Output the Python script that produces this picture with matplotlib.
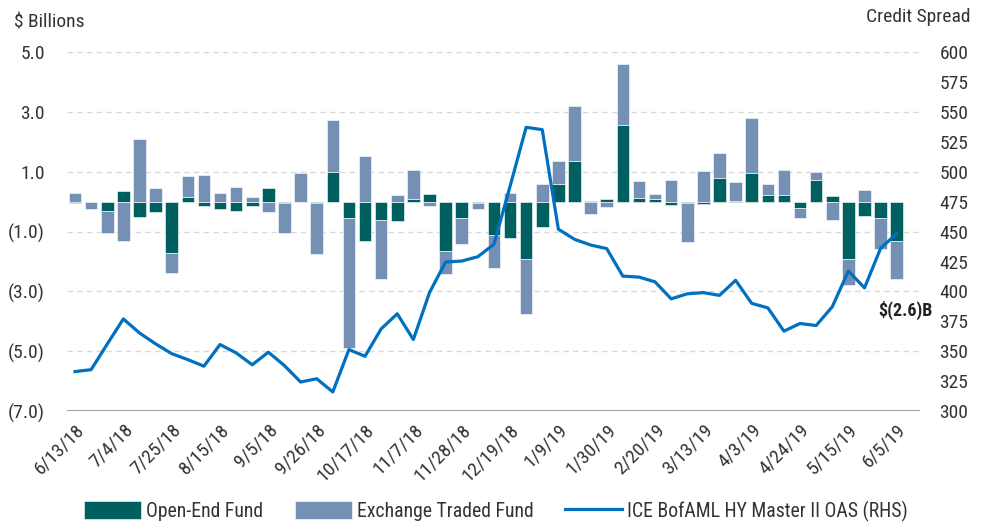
import matplotlib

matplotlib.use("Agg")
import matplotlib.pyplot as plt
import numpy as np
import pandas as pd
from matplotlib import font_manager
from matplotlib.ticker import FuncFormatter

# weekly flows, $ billions
weeks = pd.date_range("2018-06-13", periods=52, freq="7D")
oef = [-0.05, 0.0, -0.3, 0.35, -0.5, -0.35, -1.7, 0.15, -0.15, -0.25,
       -0.3, -0.15, 0.45, -0.05, 0.0, -0.05, 0.98, -0.55, -1.33, -0.6,
       -0.65, 0.1, 0.25, -1.65, -0.55, -0.05, -1.1, -1.2, -1.9, -0.83,
       0.58, 1.35, 0.02, 0.08, 2.56, 0.12, 0.08, -0.1, -0.05, -0.08,
       0.78, 0.02, 0.96, 0.23, 0.22, -0.2, 0.72, 0.2, -1.93, -0.47,
       -0.55, -1.3]
etf = [0.3, -0.25, -0.75, -1.3, 2.1, 0.45, -0.7, 0.7, 0.9, 0.3,
       0.5, 0.17, -0.35, -1.0, 0.95, -1.7, 1.75, -4.35, 1.53, -2.0,
       0.22, 0.97, -0.15, -0.78, -0.87, -0.18, -1.1, 0.3, -1.87, 0.6,
       0.78, 1.86, -0.42, -0.18, 2.05, 0.58, 0.17, 0.72, -1.3, 1.03,
       0.84, 0.64, 1.84, 0.36, 0.85, -0.35, 0.26, -0.6, -0.86, 0.4,
       -1.03, -1.3]
# ICE BofAML HY Master II OAS, bps
spread = [333, 334.6, 356, 377, 365.3, 356.2, 348, 343, 337.5, 355.6,
          348.6, 338.7, 349.2, 338, 324.3, 327, 316, 351.4, 345.8, 368.7,
          381.3, 359.8, 399, 424.6, 425.4, 429, 439.4, 487.8, 537.2, 535.2,
          452, 443.6, 438.8, 435.8, 412.8, 412, 408, 393.8, 398, 399,
          396.7, 409.3, 390, 386.3, 366.8, 373.2, 371.5, 387.2, 417, 403,
          436, 448.4]

OEF_C = "#00605f"
ETF_C = "#7490b4"
LINE_C = "#0070c0"
TEXT_C = "#333333"

# the original uses a condensed face; take the narrowest one we have
installed = {f.name for f in font_manager.fontManager.ttflist}
family = "DejaVu Sans"
for cand in ("Roboto Condensed", "Liberation Sans Narrow",
             "DejaVu Sans Condensed", "Open Sans Condensed", "Roboto"):
    if cand in installed:
        family = cand
        break
plt.rcParams["font.family"] = [family, "DejaVu Sans"]
plt.rcParams["font.size"] = 13
plt.rcParams["text.color"] = TEXT_C


def paren(v, _pos):
    return f"({abs(v):.1f})" if v < 0 else f"{v:.1f}"


x = np.arange(len(weeks))
oef_a = np.array(oef)
etf_a = np.array(etf)
# Excel-style stacking: same-sign values stack, opposite signs start at zero
etf_bottom = np.where(np.sign(etf_a) == np.sign(oef_a), oef_a, 0.0)

fig = plt.figure(figsize=(9.92, 5.27), dpi=100)
ax = fig.add_axes([0.0675, 0.22, 0.86, 0.681])
ax2 = ax.twinx()

ax.bar(x, oef_a, width=0.78, color=OEF_C, edgecolor="white", linewidth=0.4,
       label="Open-End Fund", zorder=2)
ax.bar(x, etf_a, bottom=etf_bottom, width=0.78, color=ETF_C, edgecolor="white",
       linewidth=0.4, label="Exchange Traded Fund", zorder=2)
ax2.plot(x, spread, color=LINE_C, linewidth=2.3,
         label="ICE BofAML HY Master II OAS (RHS)")

ax.set_xlim(-0.5, len(x) - 1 + 1.45)
ax.set_ylim(-7, 5)
ax.set_yticks(np.arange(-7, 5.1, 2))
ax.yaxis.set_major_formatter(FuncFormatter(paren))
ax2.set_ylim(300, 600)
ax2.set_yticks(np.arange(300, 601, 25))

for yv in np.arange(-5, 5.1, 2):
    ax.axhline(yv, color="#d9d9d9", linewidth=1, linestyle=(0, (4, 3)), zorder=0)

for a in (ax, ax2):
    for s in ("top", "left", "right", "bottom"):
        a.spines[s].set_visible(False)
ax.axhline(-7, color="#8c8c8c", linewidth=1.2, zorder=1)

ax.tick_params(axis="y", length=0, pad=16, labelsize=14, colors=TEXT_C)
ax2.tick_params(axis="y", length=0, pad=14, labelsize=14, colors=TEXT_C)
ax.set_xticks(x[::3])
ax.set_xticklabels([f"{d.month}/{d.day}/{d.year % 100}" for d in weeks[::3]],
                   rotation=45, ha="right", rotation_mode="anchor")
ax.tick_params(axis="x", length=0, pad=7, labelsize=14, colors=TEXT_C)

fig.text(0.014, 0.957, "$ Billions", fontsize=14, va="center", ha="left")
fig.text(0.978, 0.967, "Credit Spread", fontsize=14, va="center", ha="right")

total = oef_a[-1] + etf_a[-1]
ax.annotate(f"$({abs(total):.1f})B", xy=(x[-1], total), xytext=(6, -22),
            textcoords="offset points", ha="center", va="center",
            fontsize=13, fontweight="bold", color="#222222")

h1, l1 = ax.get_legend_handles_labels()
h2, l2 = ax2.get_legend_handles_labels()
fig.legend(h1 + h2, l1 + l2, loc="center", bbox_to_anchor=(0.5, 0.03),
           ncol=3, frameon=False, fontsize=14.2, handlelength=2.9,
           handleheight=1.0, handletextpad=0.25, columnspacing=1.6)

fig.savefig("out.png", dpi=100)
